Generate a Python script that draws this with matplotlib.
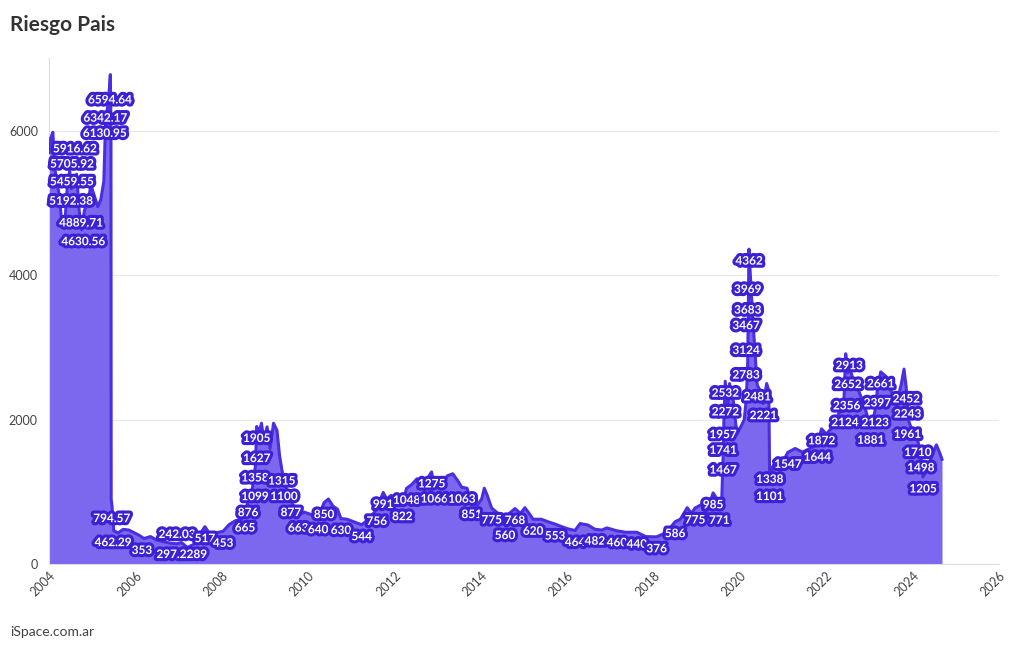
import matplotlib
matplotlib.use("Agg")
import matplotlib.pyplot as plt
import matplotlib.patheffects as pe
from matplotlib import font_manager

# Riesgo Pais (EMBI spread)
years = [
    2004.00, 2004.04, 2004.09, 2004.13, 2004.18, 2004.24, 2004.30, 2004.36, 2004.42, 2004.48,
    2004.52, 2004.58, 2004.64, 2004.70, 2004.76, 2004.82, 2004.90, 2004.97, 2005.05, 2005.13,
    2005.20, 2005.27, 2005.31, 2005.36, 2005.40, 2005.42, 2005.435, 2005.44, 2005.46, 2005.50,
    2005.60, 2005.72, 2005.85, 2005.95, 2006.08, 2006.20, 2006.35, 2006.50, 2006.65, 2006.80,
    2006.96, 2007.07, 2007.20, 2007.35, 2007.48, 2007.61, 2007.72, 2007.85, 2008.03, 2008.18,
    2008.32, 2008.45, 2008.54, 2008.61, 2008.70, 2008.78, 2008.81, 2008.86, 2008.92, 2008.98,
    2009.05, 2009.12, 2009.20, 2009.28, 2009.34, 2009.39, 2009.46, 2009.60, 2009.77, 2009.90,
    2010.05, 2010.23, 2010.37, 2010.47, 2010.58, 2010.68, 2010.76, 2010.90, 2011.08, 2011.24,
    2011.40, 2011.59, 2011.74, 2011.82, 2011.92, 2012.05, 2012.18, 2012.28, 2012.40, 2012.52,
    2012.65, 2012.78, 2012.86, 2012.92, 2013.02, 2013.12, 2013.22, 2013.35, 2013.47, 2013.56,
    2013.68, 2013.79, 2013.90, 2014.02, 2014.08, 2014.15, 2014.25, 2014.40, 2014.56, 2014.66,
    2014.79, 2014.92, 2015.02, 2015.12, 2015.21, 2015.40, 2015.58, 2015.72, 2015.86, 2016.00,
    2016.18, 2016.30, 2016.48, 2016.64, 2016.80, 2016.92, 2017.15, 2017.35, 2017.61, 2017.82,
    2018.07, 2018.20, 2018.32, 2018.50, 2018.62, 2018.78, 2018.88, 2018.96, 2019.10, 2019.22,
    2019.38, 2019.47, 2019.52, 2019.58, 2019.61, 2019.63, 2019.66, 2019.71, 2019.76, 2019.84,
    2019.93, 2020.02, 2020.10, 2020.15, 2020.18, 2020.21, 2020.26, 2020.32, 2020.40, 2020.47,
    2020.54, 2020.62, 2020.67, 2020.69, 2020.75, 2020.85, 2020.98, 2021.11, 2021.28, 2021.45,
    2021.62, 2021.79, 2021.89, 2022.00, 2022.15, 2022.30, 2022.40, 2022.45, 2022.50, 2022.55,
    2022.65, 2022.75, 2022.88, 2023.03, 2023.13, 2023.18, 2023.26, 2023.38, 2023.50, 2023.62,
    2023.74, 2023.80, 2023.85, 2023.92, 2024.02, 2024.12, 2024.19, 2024.24, 2024.33, 2024.45,
    2024.55, 2024.62, 2024.68,
]
riesgo = [
    5700, 5900, 5980, 5500, 5300, 5100, 4700, 4650, 5200, 5450,
    5200, 5300, 5400, 4890, 4630, 4900, 5000, 5250, 5100, 4950,
    5050, 5300, 6130, 6340, 6600, 6780, 6100, 900, 795, 462,
    430, 480, 470, 440, 400, 353, 380, 330, 310, 290,
    280, 297, 230, 270, 400, 517, 420, 430, 453, 550,
    600, 620, 665, 876, 1000, 1358, 1905, 1800, 1950, 1700,
    1900, 1600, 1950, 1850, 1500, 1315, 1100, 877, 663, 720,
    690, 640, 850, 900, 800, 760, 630, 620, 580, 544,
    620, 756, 991, 900, 950, 850, 822, 1048, 1100, 1180,
    1060, 1200, 1275, 1066, 1150, 1100, 1220, 1250, 1150, 1063,
    1050, 851, 800, 900, 1050, 950, 775, 700, 560, 700,
    768, 700, 780, 700, 620, 620, 580, 553, 520, 490,
    464, 560, 540, 482, 470, 500, 460, 440, 440, 380,
    376, 410, 450, 586, 620, 780, 700, 775, 820, 700,
    985, 900, 771, 900, 1467, 2000, 2532, 2100, 2500, 2300,
    1800, 1900, 2000, 2300, 2783, 4362, 3800, 3200, 2481, 2400,
    2221, 2500, 2400, 1101, 1338, 1450, 1400, 1547, 1600, 1550,
    1600, 1644, 1872, 1800, 1900, 2100, 2124, 2913, 2652, 2700,
    2500, 2400, 2200, 1881, 2123, 2397, 2661, 2600, 2400, 2200,
    2500, 2700, 2452, 1961, 1800, 1710, 1498, 1205, 1300, 1500,
    1650, 1550, 1450,
]

# labels drawn on the line
label_years = [
    2005.41, 2005.30, 2005.29, 2004.60, 2004.53, 2004.53, 2004.51, 2004.74, 2004.79,
    2005.45, 2005.48, 2006.15, 2006.96, 2007.07, 2007.61, 2008.03, 2008.54, 2008.61,
    2008.77, 2008.81, 2008.77, 2008.81, 2009.39, 2009.44, 2009.60, 2009.77, 2010.23,
    2010.37, 2010.76, 2011.24, 2011.59, 2011.74, 2012.18, 2012.28, 2012.86, 2012.92,
    2013.56, 2013.79, 2014.25, 2014.56, 2014.79, 2015.21, 2015.72, 2016.18, 2016.64,
    2017.15, 2017.61, 2018.07, 2018.50, 2018.96, 2019.38, 2019.52, 2019.61, 2019.61,
    2019.61, 2019.66, 2019.66, 2020.14, 2020.14, 2020.14, 2020.18, 2020.18, 2020.21,
    2020.40, 2020.54, 2020.69, 2020.69, 2021.11, 2021.79, 2021.89, 2022.43, 2022.47,
    2022.50, 2022.53, 2023.03, 2023.13, 2023.18, 2023.26, 2023.85, 2023.88, 2023.88,
    2024.12, 2024.19, 2024.24,
]
label_text = [
    "6594.64", "6342.17", "6130.95", "5916.62", "5705.92", "5459.55", "5192.38", "4889.71", "4630.56",
    "794.57", "462.29", "353", "242.03", "297.2289", "517", "453", "665", "876",
    "1099", "1905", "1358", "1627", "1315", "1100", "877", "663", "640",
    "850", "630", "544", "756", "991", "822", "1048", "1275", "1066",
    "1063", "851", "775", "560", "768", "620", "553", "464", "482",
    "460", "440", "376", "586", "775", "985", "771", "1467", "1741",
    "1957", "2272", "2532", "2783", "3124", "3467", "3683", "3969", "4362",
    "2481", "2221", "1338", "1101", "1547", "1644", "1872", "2124", "2356",
    "2652", "2913", "1881", "2123", "2397", "2661", "2452", "2243", "1961",
    "1710", "1498", "1205",
]
label_values = [float(t) for t in label_text]
label_lift = {"242.03": 24}  # moved up to clear its neighbour (px)

fill_color = "#7b68ee"
line_color = "#4a2ee0"
halo_color = "#3b20d4"

installed = {f.name for f in font_manager.fontManager.ttflist}
narrow = "Liberation Sans Narrow" if "Liberation Sans Narrow" in installed else "Lato"
label_size = 9.5 if narrow != "Lato" else 8.5

fig = plt.figure(figsize=(10.2, 6.5), dpi=100)
ax = fig.add_axes([49 / 1020, 1 - 564 / 650, 950 / 1020, 506 / 650])

ax.fill_between(years, riesgo, 0, color=fill_color, lw=0, zorder=2)
ax.plot(years, riesgo, color=line_color, lw=2.2, zorder=3)

halo = [pe.Stroke(linewidth=4.5, foreground=halo_color), pe.Normal()]
for yr, v, t in zip(label_years, label_values, label_text):
    dy = -12 + label_lift.get(t, 0)
    ax.annotate(t, (yr, v), xytext=(0, dy * 0.72), textcoords="offset points",
                ha="center", va="center", fontsize=label_size, fontweight="bold",
                family=narrow, color="white", path_effects=halo, zorder=5)

ax.set_xlim(2004, 2026)
ax.set_ylim(0, 7010)
ax.set_xticks(range(2004, 2027, 2))
ax.set_yticks([0, 2000, 4000, 6000])
ax.grid(axis="y", color="#e8e8e8", lw=0.8, zorder=0)
for s in ["top", "right"]:
    ax.spines[s].set_visible(False)
for s in ["left", "bottom"]:
    ax.spines[s].set_color("#dddddd")
ax.tick_params(axis="y", length=0, pad=8, labelsize=9, labelcolor="#444444")
ax.tick_params(axis="x", length=0, pad=4, labelsize=9, labelcolor="#444444")
for lab in ax.get_xticklabels():
    lab.set_rotation(45)
    lab.set_ha("right")
    lab.set_rotation_mode("anchor")
    lab.set_family("Lato")
for lab in ax.get_yticklabels():
    lab.set_family("Lato")

fig.text(10 / 1020, 1 - 25 / 650, "Riesgo Pais", fontsize=15, fontweight="bold",
         family="Lato", color="#333333", va="center")
fig.text(10 / 1020, 1 - 632 / 650, "iSpace.com.ar", fontsize=10,
         family="Lato", color="#444444", va="center")

fig.savefig("out.png", dpi=100)
